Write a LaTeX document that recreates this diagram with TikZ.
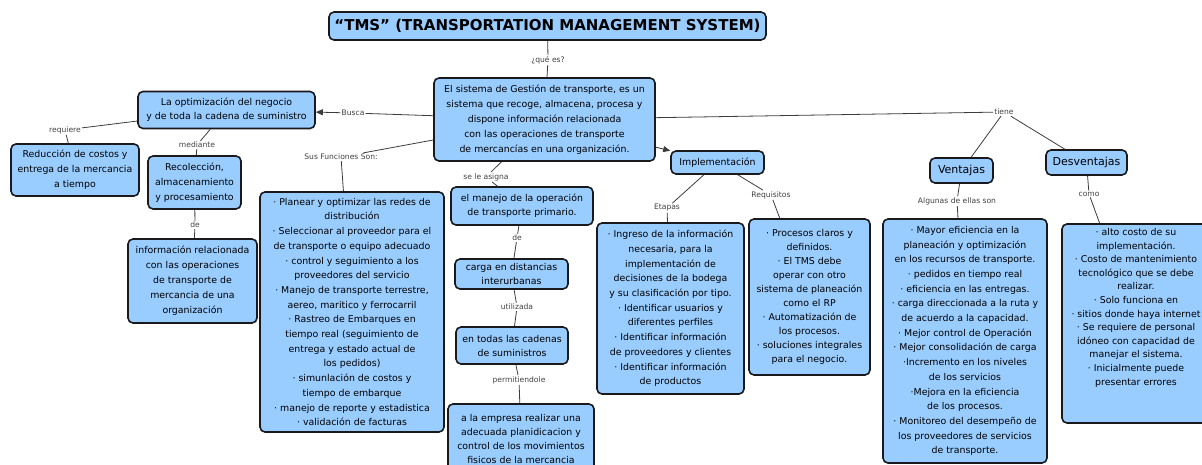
\documentclass[tikz,border=0pt]{standalone}
\usepackage{fontspec}
\setmainfont{DejaVu Sans}
\usetikzlibrary{arrows.meta}
\definecolor{boxfill}{RGB}{153,204,255}
\definecolor{boxline}{RGB}{25,25,30}
\definecolor{linkgray}{RGB}{60,60,60}
\begin{document}
\begin{tikzpicture}[x=1pt,y=-1pt,
  concept/.style={draw=boxline, line width=1.6pt, fill=boxfill, rounded corners=5pt,
    align=center, inner sep=0pt, font=\fontsize{9.4}{14}\selectfont},
  loose/.style={font=\fontsize{9.4}{15}\selectfont},
  listtext/.style={font=\fontsize{9.4}{14.7}\selectfont},
  heading/.style={font=\fontsize{11}{13}\selectfont},
  linklabel/.style={inner sep=1pt, font=\fontsize{7.6}{9}\selectfont, text=black!75},
  link/.style={draw=linkgray, line width=0.8pt},
  arrowlink/.style={link, -{Triangle[length=7pt,width=6pt]}},
]
\useasboundingbox (0,0) rectangle (1202,465);

% ---- concepts ----
\node[concept, minimum width=437pt, minimum height=28pt, font=\bfseries\fontsize{15}{17}\selectfont]
  (title) at (547.5,26) {“TMS” (TRANSPORTATION MANAGEMENT SYSTEM)};

\node[concept, loose, minimum width=221pt, minimum height=83pt] (main) at (544.5,119.5)
  {El sistema de Gestión de transporte, es un\\ sistema que recoge, almacena, procesa y\\
   dispone información relacionada\\ con las operaciones de transporte\\
   de mercancías en una organización.};

\node[concept, minimum width=177pt, minimum height=37pt] (optim) at (226.5,110)
  {La optimización del negocio\\ y de toda la cadena de suministro};

\node[concept, loose, minimum width=128pt, minimum height=52pt] (reduc) at (75,170)
  {Reducción de costos y\\ entrega de la mercancia\\ a tiempo};

\node[concept, loose, minimum width=93pt, minimum height=53pt] (recol) at (194.5,182.5)
  {Recolección,\\ almacenamiento\\ y procesamiento};

\node[concept, loose, minimum width=129pt, minimum height=84pt] (info) at (192.5,281)
  {información relacionada\\ con las operaciones\\ de transporte de\\ mercancia de una\\ organización};

\node[concept, listtext, minimum width=184pt, minimum height=240pt] (funcs) at (352,312)
  {· Planear y optimizar las redes de\\ distribución\\ · Seleccionar al proveedor para el\\
   de transporte o equipo adecuado\\ · control y seguimiento a los\\ proveedores del servicio\\
   · Manejo de transporte terrestre,\\ aereo, maritico y ferrocarril\\ · Rastreo de Embarques en\\
   tiempo real (seguimiento de\\ entrega y estado actual de\\ los pedidos)\\
   · simunlación de costos y\\ tiempo de embarque\\ · manejo de reporte y estadistica\\
   · validación de facturas};

\node[concept, minimum width=142pt, minimum height=38pt] (manejo) at (522,206)
  {el manejo de la operación\\ de transporte primario.};

\node[concept, minimum width=113pt, minimum height=30pt] (carga) at (511.5,274)
  {carga en distancias\\ interurbanas};

\node[concept, minimum width=112pt, minimum height=37pt] (entodas) at (512,345.5)
  {en todas las cadenas\\ de suministros};

\node[concept, minimum width=146pt, minimum height=70pt] (empresa) at (521,439)
  {a la empresa realizar una\\ adecuada planidicacion y\\ control de los movimientos\\
   fisicos de la mercancia};

\node[concept, minimum width=93pt, minimum height=23pt] (impl) at (717.5,162.5)
  {Implementación};

\node[concept, listtext, minimum width=147pt, minimum height=171pt] (etapas) at (670.5,308.5)
  {· Ingreso de la información\\ necesaria, para la\\ implementación de\\
   decisiones de la bodega\\ y su clasificación por tipo.\\ · Identificar usuarios y\\
   diferentes perfiles\\ · Identificar información\\ de proveedores y clientes\\
   · Identificar información\\ de productos};

\node[concept, minimum width=121pt, minimum height=156pt] (requis) at (809.5,297)
  {· Procesos claros y\\ definidos.\\ · El TMS debe\\ operar con otro\\
   sistema de planeación\\ como el RP\\ · Automatización de\\ los procesos.\\
   · soluciones integrales\\ para el negocio.};

\node[concept, heading, minimum width=63pt, minimum height=25pt] (ventajas) at (961.5,170.5)
  {Ventajas};

\node[concept, heading, minimum width=81pt, minimum height=25pt] (desv) at (1086.5,162.5)
  {Desventajas};

\node[concept, listtext, minimum width=164pt, minimum height=244pt] (vlist) at (965,341)
  {· Mayor eficiencia en la\\ planeación y optimización\\ en los recursos de transporte.\\
   · pedidos en tiempo real\\ · eficiencia en las entregas.\\ · carga direccionada a la ruta y\\
   de acuerdo a la capacidad.\\ · Mejor control de Operación\\ · Mejor consolidación de carga\\
   ·Incremento en los niveles\\ de los servicios\\ ·Mejora en la eficiencia\\
   de los procesos.\\ · Monitoreo del desempeño de\\ los proveedores de servicios\\
   de transporte.};

% list box of drawbacks, text set from the top
\node[concept, minimum width=148pt, minimum height=199pt] (dlist) at (1136,323.5) {};
\node[anchor=north, align=center, inner sep=0pt, font=\fontsize{9.4}{13.6}\selectfont]
  (dtext) at ([yshift=-5pt]dlist.north)
  {· alto costo de su\\ implementación.\\ · Costo de mantenimiento\\ tecnológico que se debe\\
   realizar.\\ · Solo funciona en\\ · sitios donde haya internet\\ · Se requiere de personal\\
   idóneo con capacidad de\\ manejar el sistema.\\ · Inicialmente puede\\ presentar errores};

% ---- linking phrases ----
\node[linklabel] (quees)   at (548,60)   {¿qué es?};
\node[linklabel] (busca)   at (353,113)  {Busca};
\node[linklabel] (requiere) at (65,130)  {requiere};
\node[linklabel] (mediante) at (197,145) {mediante};
\node[linklabel] (deA)     at (195,225)  {de};
\node[linklabel] (susf)    at (341,157)  {Sus Funciones Son:};
\node[linklabel] (asigna)  at (486,177)  {se le asigna};
\node[linklabel] (deB)     at (517,238)  {de};
\node[linklabel] (utiliz)  at (517,307)  {utilizada};
\node[linklabel] (permit)  at (519,380)  {permitiendole};
\node[linklabel] (tiene)   at (1004,112) {tiene};
\node[linklabel] (etapasl) at (667,208)  {Etapas};
\node[linklabel] (requisl) at (771,195)  {Requisitos};
\node[linklabel] (algunas) at (957,201)  {Algunas de ellas son};
\node[linklabel] (como)    at (1089,194) {como};

% ---- connectors ----
\draw[link] (title) -- (quees);   \draw[link] (quees) -- (main);
\draw[link] (main) -- (busca);    \draw[arrowlink] (busca) -- (optim);
\draw[link] (optim) -- (requiere); \draw[link] (requiere) -- (reduc);
\draw[link] (optim) -- (mediante); \draw[link] (mediante) -- (recol);
\draw[link] (recol) -- (deA);     \draw[link] (deA) -- (info);
\draw[link] (main) -- (susf);     \draw[link] (susf) -- (funcs);
\draw[link] (main) -- (asigna);   \draw[link] (asigna) -- (manejo);
\draw[link] (manejo) -- (deB);    \draw[link] (deB) -- (carga);
\draw[link] (carga) -- (utiliz);  \draw[link] (utiliz) -- (entodas);
\draw[link] (entodas) -- (permit); \draw[link] (permit) -- (empresa);
\draw[arrowlink] (main) -- (impl);
\draw[link] (impl) -- (etapasl);  \draw[link] (etapasl) -- (etapas);
\draw[link] (impl) -- (requisl);  \draw[link] (requisl) -- (requis);
\draw[link] (main) -- (tiene);
\draw[link] (tiene) -- (ventajas); \draw[link] (tiene) -- (desv);
\draw[link] (ventajas) -- (algunas); \draw[link] (algunas) -- (vlist);
\draw[link] (desv) -- (como);     \draw[link] (como) -- (dlist);
\end{tikzpicture}
\end{document}
